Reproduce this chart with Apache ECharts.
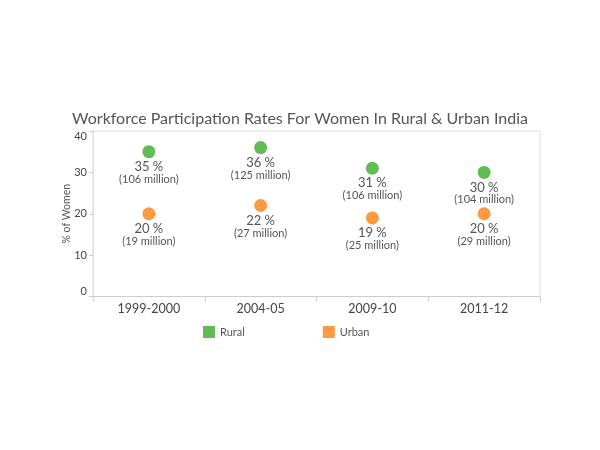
<!DOCTYPE html>
<html>
<head>
<meta charset="utf-8">
<script src="https://cdn.jsdelivr.net/npm/echarts@6/dist/echarts.min.js"></script>
<style>html,body{margin:0;padding:0;background:#fff;}#c{width:600px;height:450px;}</style>
</head>
<body>
<div id="c"></div>
<script>
var categories = ['1999-2000', '2004-05', '2009-10', '2011-12'];
var ruralPct = [35, 36, 31, 30];
var ruralMillion = [106, 125, 106, 104];
var urbanPct = [20, 22, 19, 20];
var urbanMillion = [19, 27, 25, 29];
var yTicks = [0, 10, 20, 30, 40];

var FONT = 'Lato, "Open Sans", sans-serif';
function mkData(p, m) {
  return p.map(function (v, i) { return { value: v, million: m[i] }; });
}
function lbl() {
  return {
    show: true, position: 'bottom', distance: 2,
    formatter: function (pr) {
      return '{a|' + pr.value + ' %}\n{b|(' + pr.data.million + ' million)}';
    },
    rich: {
      a: { fontSize: 13, color: '#555', fontFamily: FONT, lineHeight: 13 },
      b: { fontSize: 11, color: '#555', fontFamily: FONT, lineHeight: 12 }
    }
  };
}
var chart = echarts.init(document.getElementById('c'));
chart.setOption({
  animation: false,
  title: {
    text: 'Workforce Participation Rates For Women In Rural & Urban India',
    left: 'center', top: 106,
    textStyle: { fontSize: 16, fontWeight: 'normal', color: '#555', fontFamily: FONT }
  },
  legend: {
    top: 321, left: 198, itemGap: 78, itemWidth: 12, itemHeight: 12, icon: 'rect',
    textStyle: { fontSize: 11, color: '#555', fontFamily: FONT },
    data: ['Rural', 'Urban']
  },
  grid: { left: 93, right: 60, top: 131, bottom: 153.5, show: true, borderColor: '#ddd', borderWidth: 1, backgroundColor: 'transparent' },
  xAxis: {
    type: 'category', data: categories,
    axisLine: { lineStyle: { color: '#ccc' } },
    axisTick: { show: true, length: 5, lineStyle: { color: '#ccc' } },
    axisLabel: { fontSize: 12.5, color: '#444', fontFamily: FONT, margin: 6 }
  },
  yAxis: {
    type: 'value', min: yTicks[0], max: yTicks[yTicks.length - 1], interval: 10,
    name: '% of Women', nameLocation: 'middle', nameGap: 21, nameMoveOverlap: false,
    nameTextStyle: { fontSize: 10.5, color: '#555', fontFamily: FONT },
    splitLine: { show: false },
    axisLine: { show: true, lineStyle: { color: '#ddd' } },
    axisTick: { show: true, length: 4, lineStyle: { color: '#ccc' } },
    axisLabel: { fontSize: 11, color: '#444', fontFamily: FONT, margin: 6,
      verticalAlignMinLabel: 'bottom', verticalAlignMaxLabel: 'top' }
  },
  series: [
    { name: 'Rural', type: 'scatter', symbolSize: 13, itemStyle: { color: '#62bb54', opacity: 1 }, data: mkData(ruralPct, ruralMillion), label: lbl() },
    { name: 'Urban', type: 'scatter', symbolSize: 13, itemStyle: { color: '#fd9a40', opacity: 1 }, data: mkData(urbanPct, urbanMillion), label: lbl() }
  ]
});
</script>
</body>
</html>
